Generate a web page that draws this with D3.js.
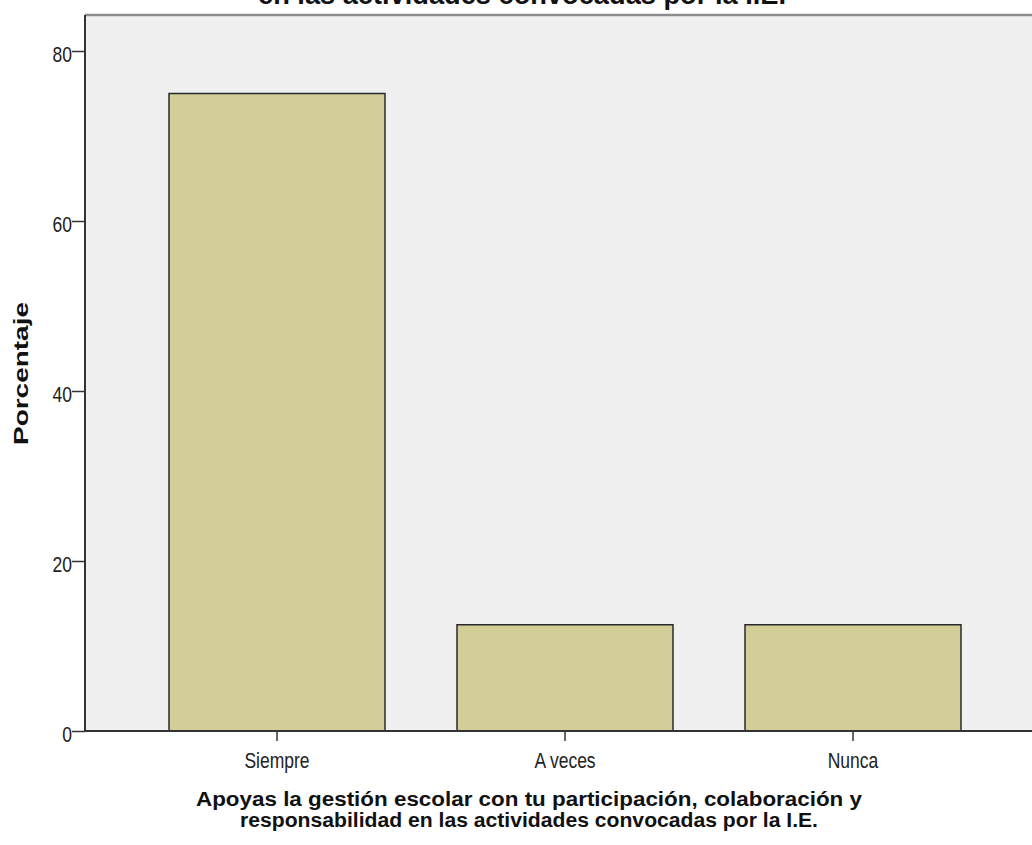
<!DOCTYPE html>
<html><head><meta charset="utf-8">
<script src="https://cdn.jsdelivr.net/npm/d3@7"></script>
<style>body{margin:0;background:#fff}svg{display:block}text{font-family:"Liberation Sans",Arial,sans-serif}</style>
</head><body>
<script>
const categories = ["Siempre", "A veces", "Nunca"];
const values = [75, 12.5, 12.5];
const yTicks = [0, 20, 40, 60, 80];
const titleLine = "en las actividades convocadas por la I.E.";
const xTitle = ["Apoyas la gestión escolar con tu participación, colaboración y", "responsabilidad en las actividades convocadas por la I.E."];
const yTitle = "Porcentaje";

const W = 1032, H = 845;
const SY = 1.28;
const svg = d3.select("body").append("svg").attr("width", W).attr("height", H);
const L = 85, T = 15, R = 1032, B = 731;

const x = d3.scaleBand().domain(categories).range([133, 997]).paddingInner(0.25).paddingOuter(0.125);
const y = d3.scaleLinear().domain([0, 80]).range([B, 51]);

svg.append("rect").attr("x", L).attr("y", T).attr("width", R - L).attr("height", B - T).attr("fill", "#f0f0f0");
svg.append("line").attr("x1", L).attr("x2", R).attr("y1", T).attr("y2", T).attr("stroke", "#8c8c8c").attr("stroke-width", 2.5);

svg.selectAll("rect.bar").data(values).enter().append("rect").attr("class", "bar")
  .attr("x", (d, i) => x(categories[i]))
  .attr("y", d => y(d))
  .attr("width", x.bandwidth())
  .attr("height", d => B - y(d))
  .attr("fill", "#d3ce97").attr("stroke", "#2a2a2a").attr("stroke-width", 1.5);

const ya = svg.append("g").attr("transform", `translate(${L},0)`)
  .call(d3.axisLeft(y).tickValues(yTicks).tickSize(13).tickFormat(d3.format("d")));
ya.select(".domain").remove();
ya.selectAll("line").attr("stroke", "#333").attr("stroke-width", 1.5);
ya.selectAll("text").attr("font-size", 17.5).attr("fill", "#222")
  .attr("x", -13).attr("y", 0).attr("dy", null)
  .attr("transform", `translate(0,10) scale(1,${SY})`);

const xa = svg.append("g").attr("transform", `translate(0,${B})`)
  .call(d3.axisBottom(x).tickSize(10));
xa.select(".domain").remove();
xa.selectAll("line").attr("stroke", "#333").attr("stroke-width", 1.5);
xa.selectAll("text").attr("font-size", 17.5).attr("fill", "#222")
  .attr("y", 0).attr("dy", null)
  .attr("transform", `translate(0,37) scale(1,${SY})`);

svg.append("line").attr("x1", L).attr("x2", L).attr("y1", T).attr("y2", B + 1).attr("stroke", "#333").attr("stroke-width", 2);
svg.append("line").attr("x1", L - 1).attr("x2", R).attr("y1", B).attr("y2", B).attr("stroke", "#333").attr("stroke-width", 2);

svg.append("text").attr("transform", `translate(522,4.3) scale(1,${SY})`).attr("text-anchor", "middle")
  .attr("font-size", 22).attr("font-weight", "bold").attr("fill", "#111")
  .attr("textLength", 528).attr("lengthAdjust", "spacingAndGlyphs").text(titleLine);

const xtLens = [666, 578];
const xtBase = [806, 827];
svg.selectAll("text.xt").data(xTitle).enter().append("text").attr("class", "xt")
  .attr("transform", (d, i) => `translate(529,${xtBase[i]})`)
  .attr("text-anchor", "middle").attr("font-size", 20).attr("font-weight", "bold").attr("fill", "#111")
  .attr("textLength", (d, i) => xtLens[i]).attr("lengthAdjust", "spacingAndGlyphs").text(d => d);

svg.append("text").attr("transform", "translate(28,373.5) rotate(-90)").attr("text-anchor", "middle")
  .attr("font-size", 21).attr("font-weight", "bold").attr("fill", "#111")
  .attr("textLength", 143).attr("lengthAdjust", "spacingAndGlyphs").text(yTitle);
</script>
</body></html>
